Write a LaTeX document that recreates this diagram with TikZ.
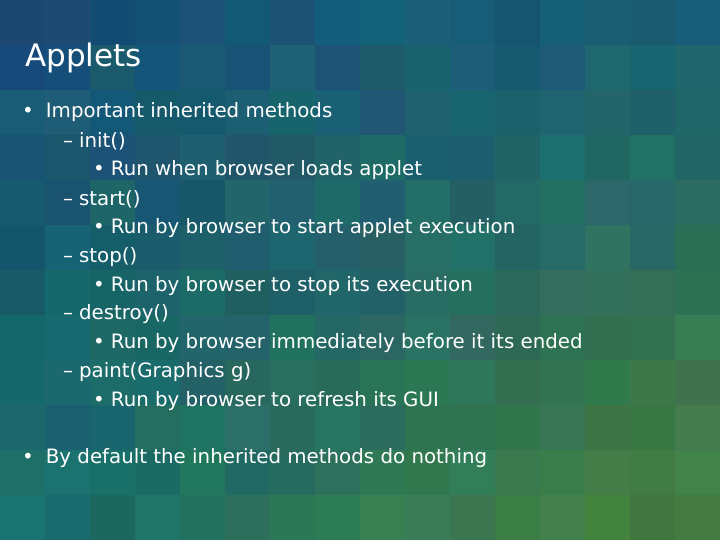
\documentclass[tikz,border=0pt]{standalone}
\usepackage{fontspec}
\setmainfont{DejaVu Sans}
\tikzset{
  txt/.style={anchor=west, inner sep=0pt, text=white, font=\fontsize{19.8}{22}\selectfont},
  ttl/.style={anchor=west, inner sep=0pt, text=white, font=\fontsize{31}{34}\selectfont}
}
\newcommand{\blt}{•\hspace{12pt}}
\newcommand{\sblt}{•\hspace{6pt}}
\newcommand{\dsh}{–\hspace{6pt}}
\begin{document}
\begin{tikzpicture}[x=1pt, y=-1pt]
    \useasboundingbox (0, 0) rectangle (720, 540);
    \pgfmathsetseed{7}
    % mosaic background
    \foreach \i in {0,...,15}{
      \foreach \j in {0,...,11}{
        \pgfmathtruncatemacro{\rr}{18 + 50*(\i/15)*(\j/11) + 12*rnd}
        \pgfmathtruncatemacro{\gg}{70 + 30*(\j/11) + 20*(\i/15) + 18*rnd}
        \pgfmathtruncatemacro{\bb}{100 + 10*(1-\j/11) - 45*(\i/15)*(\j/11) + 15*rnd}
        \definecolor{cell}{RGB}{\rr,\gg,\bb}
        \fill [cell] (\i*45, \j*45) rectangle ++(45, 45);
      }
    }
    \node [ttl] (title) at (25, 58) {Applets};
    \node [txt] (b1) at (22, 112) {\blt Important inherited methods};
    \node [txt] (m1) at (63, 141) {\dsh init()};
    \node [txt] (s1) at (93, 170) {\sblt Run when browser loads applet};
    \node [txt] (m2) at (63, 199) {\dsh start()};
    \node [txt] (s2) at (93, 228) {\sblt Run by browser to start applet execution};
    \node [txt] (m3) at (63, 257) {\dsh stop()};
    \node [txt] (s3) at (93, 286) {\sblt Run by browser to stop its execution};
    \node [txt] (m4) at (63, 314) {\dsh destroy()};
    \node [txt] (s4) at (93, 343) {\sblt Run by browser immediately before it its ended};
    \node [txt] (m5) at (63, 372) {\dsh paint(Graphics g)};
    \node [txt] (s5) at (93, 401) {\sblt Run by browser to refresh its GUI};
    \node [txt] (b2) at (22, 458) {\blt By default the inherited methods do nothing};
\end{tikzpicture}
\end{document}
